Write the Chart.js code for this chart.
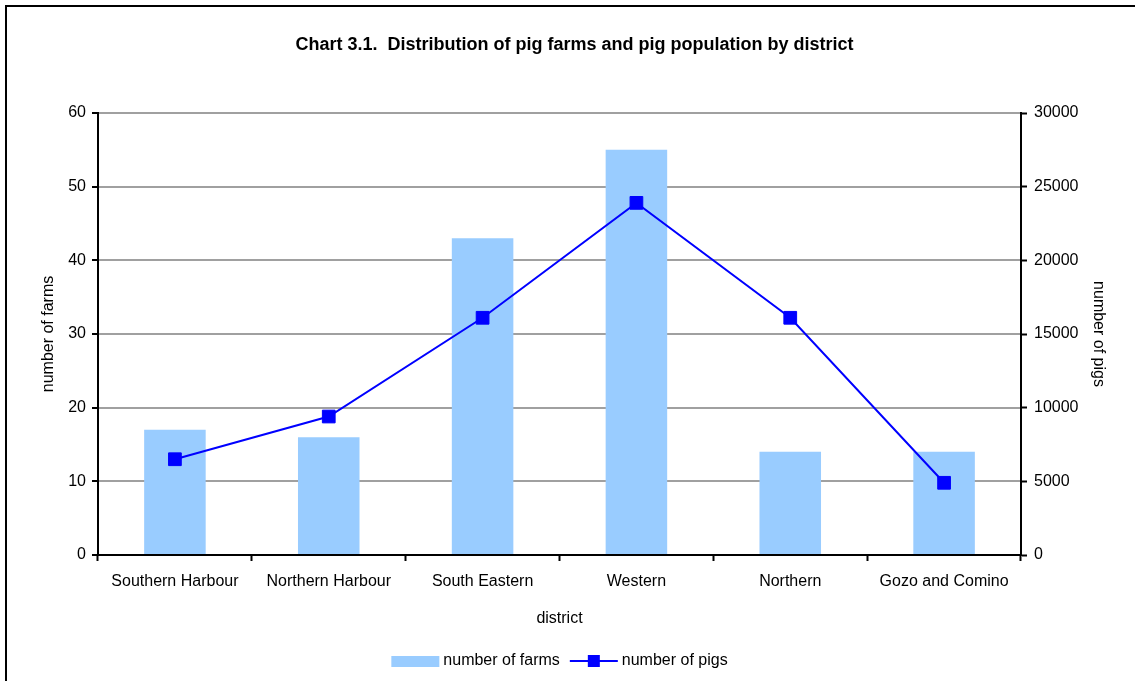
<!DOCTYPE html>
<html>
<head>
<meta charset="utf-8">
<script src="https://cdn.jsdelivr.net/npm/chart.js@4"></script>
<style>
  html, body { margin: 0; padding: 0; background: #fff; overflow: hidden; }
  #frame { position: absolute; left: 5px; top: 5px; width: 1200px; height: 800px; border-left: 2px solid #000; border-top: 2px solid #000; }
  #wrap { position: absolute; left: 0; top: 0; width: 1135px; height: 681px; }
</style>
</head>
<body>
<div id="frame"></div>
<div id="wrap"><canvas id="chart" width="1135" height="681"></canvas></div>
<script>
const districts = ['Southern Harbour', 'Northern Harbour', 'South Eastern', 'Western', 'Northern', 'Gozo and Comino'];
const farms = [17, 16, 43, 55, 14, 14];
const pigs = [6500, 9400, 16100, 23900, 16100, 4900];
const farmTicks = [0, 10, 20, 30, 40, 50, 60];
const pigTicks = [0, 5000, 10000, 15000, 20000, 25000, 30000];

const FONT = "'Liberation Sans', Arial, sans-serif";
Chart.defaults.font.family = FONT;
Chart.defaults.font.size = 16;
Chart.defaults.color = '#000';

// legend drawn below the axis title: box for bars, line+square for the line
const bottomLegend = {
    id: 'bottomLegend',
    afterDraw(chart) {
        const ctx = chart.ctx;
        const ds = chart.data.datasets;
        const y = 661;
        ctx.save();
        ctx.font = '16px ' + FONT;
        ctx.textBaseline = 'middle';
        const w0 = ctx.measureText(ds[0].label).width;
        const w1 = ctx.measureText(ds[1].label).width;
        const total = 48 + 4 + w0 + 10 + 48 + 4 + w1;
        const cx = (chart.chartArea.left + chart.chartArea.right) / 2;
        let x = cx - total / 2;
        ctx.fillStyle = ds[0].backgroundColor;
        ctx.fillRect(x, y - 5, 48, 11);
        x += 52;
        ctx.fillStyle = '#000';
        ctx.fillText(ds[0].label, x, y);
        x += w0 + 10;
        ctx.strokeStyle = ds[1].borderColor;
        ctx.lineWidth = 2;
        ctx.beginPath();
        ctx.moveTo(x, y);
        ctx.lineTo(x + 48, y);
        ctx.stroke();
        ctx.fillStyle = ds[1].pointBackgroundColor;
        ctx.fillRect(x + 24 - 6, y - 6, 12, 12);
        x += 52;
        ctx.fillStyle = '#000';
        ctx.fillText(ds[1].label, x, y);
        ctx.restore();
    }
};

new Chart(document.getElementById('chart'), {
    type: 'bar',
    data: {
        labels: districts,
        datasets: [{
            label: 'number of farms',
            data: farms,
            yAxisID: 'y',
            backgroundColor: '#99CCFF',
            categoryPercentage: 1,
            barPercentage: 0.4,
            order: 1
        }, {
            type: 'line',
            label: 'number of pigs',
            data: pigs,
            yAxisID: 'y1',
            borderColor: '#0000FF',
            borderWidth: 2,
            pointStyle: 'rect',
            pointRadius: 9,
            pointBackgroundColor: '#0000FF',
            pointBorderColor: '#0000FF',
            pointBorderWidth: 1,
            tension: 0,
            order: 0
        }]
    },
    options: {
        responsive: false,
        animation: false,
        layout: { padding: { left: 14, right: 0, top: 0, bottom: 46 } },
        plugins: {
            legend: { display: false },
            tooltip: { enabled: false },
            title: {
                display: true,
                text: 'Chart 3.1.  Distribution of pig farms and pig population by district',
                font: { size: 18, weight: 'bold' },
                color: '#000',
                padding: { top: 34.2, bottom: 57.2 }
            }
        },
        scales: {
            x: {
                afterFit: s => { s.height = 80; },
                grid: { offset: true, drawOnChartArea: false, drawTicks: true, tickLength: 6, tickColor: '#000', tickWidth: 2 },
                border: { color: '#000', width: 2 },
                ticks: { padding: 11, maxRotation: 0, autoSkip: false },
                title: { display: true, text: 'district', padding: { top: 0, bottom: 6.4 } }
            },
            y: {
                position: 'left',
                min: 0, max: 60,
                afterFit: s => { s.width = 84; },
                afterBuildTicks: s => { s.ticks = farmTicks.map(v => ({ value: v })); },
                grid: { color: '#a0a0a0', lineWidth: 2, tickColor: '#000', tickLength: 6, tickWidth: 2 },
                border: { color: '#000', width: 2 },
                ticks: { padding: 6 },
                title: { display: true, text: 'number of farms', padding: { top: 25.4, bottom: 0 } }
            },
            y1: {
                position: 'right',
                min: 0, max: 30000,
                afterFit: s => { s.width = 114; },
                afterBuildTicks: s => { s.ticks = pigTicks.map(v => ({ value: v })); },
                grid: { drawOnChartArea: false, tickColor: '#000', tickLength: 6, tickWidth: 2 },
                border: { color: '#000', width: 2 },
                ticks: { padding: 7, callback: v => String(v) },
                title: { display: true, text: 'number of pigs', padding: { top: 27.4, bottom: 0 } }
            }
        }
    },
    plugins: [bottomLegend]
});
</script>
</body>
</html>
